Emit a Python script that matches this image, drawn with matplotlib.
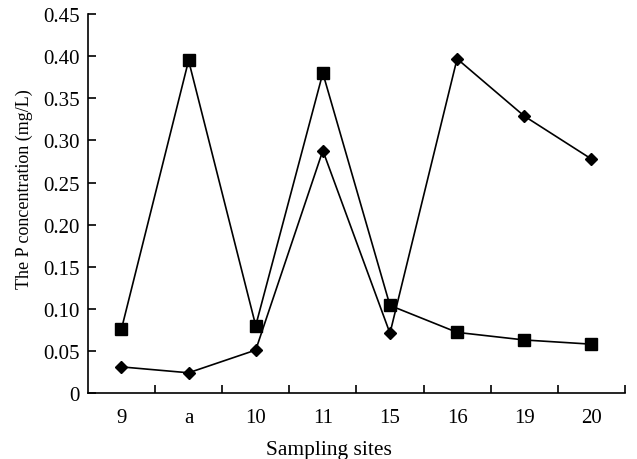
import matplotlib
matplotlib.use("Agg")
import matplotlib.pyplot as plt
import numpy as np

sites = ["9", "a", "10", "11", "15", "16", "19", "20"]
square_vals = [0.076, 0.395, 0.080, 0.380, 0.104, 0.072, 0.063, 0.058]
diamond_vals = [0.031, 0.024, 0.051, 0.288, 0.071, 0.397, 0.329, 0.278]
yticks = [0, 0.05, 0.10, 0.15, 0.20, 0.25, 0.30, 0.35, 0.40, 0.45]
ytick_labels = ["0", "0.05", "0.10", "0.15", "0.20", "0.25", "0.30", "0.35", "0.40", "0.45"]

plt.rcParams['font.family'] = ['Liberation Serif', 'DejaVu Serif']

fig = plt.figure(figsize=(6.37, 4.6), dpi=100)
ax = fig.add_axes([0.138, 0.1435, 0.843, 0.8235])

x = np.arange(len(sites))
ax.plot(x, square_vals, color='black', lw=1.2, marker='s', ms=8.5, zorder=3)
ax.plot(x, diamond_vals, color='black', lw=1.2, marker='D', ms=6.4, zorder=3)

ax.set_xlim(-0.5, len(sites) - 0.5)
ax.set_ylim(0, 0.45)
ax.set_yticks(yticks)
ax.set_yticklabels(ytick_labels)
ax.set_xticks(x)
ax.set_xticklabels(sites)
ax.set_xticks(np.arange(0.5, len(sites) + 0.5, 1.0), minor=True)

ax.tick_params(axis='x', which='major', length=0, labelsize=15, pad=11)
ax.tick_params(axis='x', which='minor', direction='in', length=6, width=1.2)
ax.tick_params(axis='y', direction='in', length=6, width=1.2, labelsize=15, pad=6)

for s in ['top', 'right']:
    ax.spines[s].set_visible(False)
for s in ['left', 'bottom']:
    ax.spines[s].set_linewidth(1.2)

ax.set_xlabel("Sampling sites", fontsize=15.5)
ax.xaxis.set_label_coords(0.449, -0.125)
ax.set_ylabel("The P concentration (mg/L)", fontsize=13)
ax.yaxis.set_label_coords(-0.102, 0.541)

fig.savefig("out.png", dpi=100)
